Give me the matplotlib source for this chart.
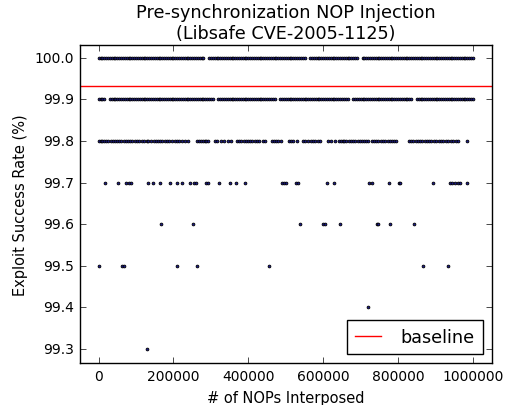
import matplotlib
matplotlib.use("Agg")
import matplotlib.pyplot as plt
import numpy as np

plt.style.use("classic")

# x positions are in thousands of NOPs
x_100 = [0, 5, 10, 15, 20, 25, 30, 35, 40, 45, 50, 55, 60, 65, 70, 75, 80, 85, 90, 95,
         100, 105, 110, 115, 120, 125, 130, 135, 140, 145, 150, 155, 160, 165, 170, 175, 180, 185, 190, 195,
         200, 205, 210, 215, 220, 225, 230, 235, 240, 245, 250, 255, 260, 265, 270, 275, 280,
         295, 300, 305, 310, 315, 320, 325, 330, 335, 340, 345, 350, 355, 360, 365, 370, 375, 380, 385, 390, 395,
         400, 405, 410, 415, 420, 425, 430, 435, 440, 445, 450, 455, 460, 465, 470, 475, 480, 485, 490, 495,
         500, 505, 510, 515, 520, 525, 530, 535, 540, 545, 550,
         565, 570, 575, 580, 585, 590, 595,
         600, 605, 610, 615, 620, 625, 630, 635, 640, 645, 650, 655, 660, 665, 670, 675, 680, 685, 690,
         705, 710, 715, 720, 725, 730, 735, 740, 745, 750, 755, 760, 765, 770, 775, 780, 785, 790, 795,
         800, 805, 810, 815, 820, 825, 830, 835, 840, 845, 850, 855, 860, 865, 870, 875, 880, 885, 890, 895,
         900, 905, 910, 915, 920, 925, 930, 935, 940, 945, 950, 955, 960, 965, 970, 975, 980, 985, 990, 995, 1000]

x_999 = [0, 5, 10, 15, 30, 35, 40, 45, 50, 55, 60, 65, 70, 75, 80, 85, 90, 95,
         100, 105, 110, 115, 120, 125, 130, 135, 140, 145, 150, 155, 160, 165, 170, 175, 180, 185, 190, 195,
         200, 205, 210, 215, 220, 225, 230, 235, 240, 245, 250, 255, 260, 265, 270, 275, 280, 285, 290, 295,
         300, 305, 320, 325, 330, 335, 340, 345, 350, 355, 360, 365, 370, 375, 380, 385, 390, 395,
         400, 405, 410, 415, 420, 425, 430, 435, 440, 445, 450, 455, 460, 465, 470,
         485, 490, 495, 500, 505, 510, 515, 520, 525, 530, 535, 540, 545, 550, 555, 560, 565, 570, 575, 580,
         585, 590, 595, 600, 605, 610, 615, 620, 625, 630, 635, 640, 645, 650, 655, 660, 665,
         680, 685, 690, 695, 700, 705, 710, 715, 720, 725, 730, 735, 740, 745, 750, 755, 760, 765, 770, 775,
         780, 785, 790, 795, 800, 805, 810, 815, 820, 825, 830, 835,
         850, 855, 860, 865, 870, 875, 880, 885, 890, 895, 900, 905, 910, 915, 920, 925, 930, 935, 940,
         945, 950, 955, 960, 965, 970, 975, 980, 985, 990, 995, 1000]

x_998 = [0, 5, 10, 15, 20, 25, 33, 38, 43, 50, 55, 61, 67, 72, 78, 84, 90, 97, 103,
         108, 115, 122, 128, 133, 140, 147, 154, 158, 164, 170, 177, 183, 189, 196, 203, 210, 216,
         222, 232, 238, 263, 268, 273, 278, 283, 288, 293, 310, 317, 326, 335, 345, 353,
         369, 375, 381, 387, 393, 398, 404, 411, 417, 422, 428, 438, 444, 463, 469, 474, 480, 486,
         508, 514, 520, 529, 545, 552, 560, 566, 572, 578, 585, 591, 613, 620, 631, 641, 647, 652,
         656, 662, 668, 674, 680, 686, 692, 698, 704, 710, 715, 720,
         729, 735, 741, 747, 753, 760, 766, 772, 778, 784, 790, 795,
         829, 835, 841, 847, 853, 859, 865, 871, 877, 883, 889, 895, 901, 909,
         915, 921, 927, 933, 940, 947, 954, 961, 984]

x_997 = [18, 52, 74, 80, 87, 133, 145, 165, 190, 209, 222, 245, 256, 260, 288, 293, 321, 352,
         368, 391, 489, 494, 501, 528, 533, 610, 630, 722, 730, 776, 802, 805, 894, 939, 945,
         952, 959, 966, 984]
x_996 = [167, 251, 537, 599, 605, 644, 743, 747, 778, 842]
x_995 = [0, 62, 67, 210, 264, 455, 866, 932]
x_994 = [720]
x_993 = [129]

levels = [100.0, 99.9, 99.8, 99.7, 99.6, 99.5, 99.4, 99.3]
rows = [x_100, x_999, x_998, x_997, x_996, x_995, x_994, x_993]
baseline = 99.933

xticks = [0, 200000, 400000, 600000, 800000, 1000000]
yticks = [99.3, 99.4, 99.5, 99.6, 99.7, 99.8, 99.9, 100.0]

fig = plt.figure(figsize=(5.09, 4.06), dpi=100, facecolor="white")
ax = fig.add_axes([0.157, 0.103, 0.809, 0.784])

xs = []
ys = []
for lvl, r in zip(levels, rows):
    xs.extend([v * 1000 for v in r])
    ys.extend([lvl] * len(r))
ax.scatter(xs, ys, s=4, c="#1a1a8c", edgecolors="k", linewidths=0.6, zorder=3)
ax.axhline(baseline, color="r", lw=1, label="baseline", zorder=2)

ax.set_xlim(-50000, 1050000)
ax.set_ylim(99.266, 100.031)
ax.set_xticks(xticks)
ax.set_xticklabels([str(t) for t in xticks])
ax.set_yticks(yticks)
ax.set_yticklabels(["%.1f" % t for t in yticks])
ax.tick_params(labelsize=10)
ax.set_xlabel("# of NOPs Interposed", fontsize=10.5)
ax.set_ylabel("Exploit Success Rate (%)", fontsize=10.5)
ax.set_title("Pre-synchronization NOP Injection\n(Libsafe CVE-2005-1125)", fontsize=12.7)
leg = ax.legend(loc="lower right", fontsize=12.7, numpoints=1, handlelength=1.5,
                handletextpad=1.1, borderpad=0.45)

fig.savefig("out.png", dpi=100, facecolor="white")
